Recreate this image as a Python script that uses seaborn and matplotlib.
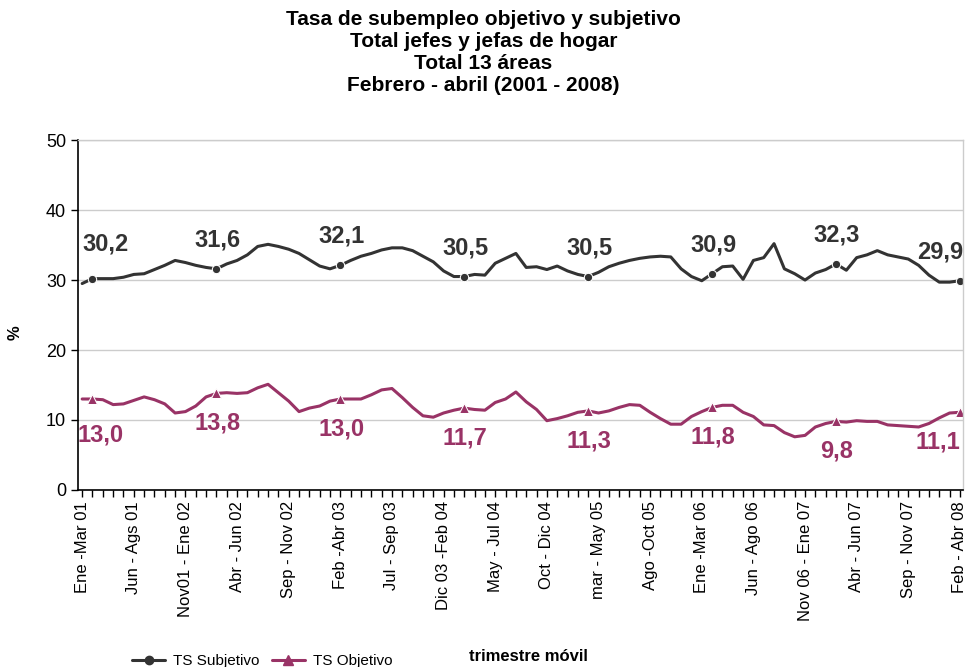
import seaborn as sns
import matplotlib.pyplot as plt
from matplotlib.lines import Line2D
import numpy as np
import pandas as pd

# trimestres móviles (etiqueta cada 5 periodos)
tick_labels = [
    "Ene -Mar 01", "Jun - Ags 01", "Nov01 - Ene 02", "Abr - Jun 02",
    "Sep - Nov 02", "Feb -Abr 03", "Jul - Sep 03", "Dic 03 -Feb 04",
    "May - Jul 04", "Oct - Dic 04", "mar - May 05", "Ago -Oct 05",
    "Ene -Mar 06", "Jun - Ago 06", "Nov 06 - Ene 07", "Abr - Jun 07",
    "Sep - Nov 07", "Feb - Abr 08",
]

subjetivo = [
    29.5, 30.2, 30.2, 30.2, 30.4, 30.8, 30.9, 31.5, 32.1, 32.8,
    32.5, 32.1, 31.8, 31.6, 32.3, 32.8, 33.6, 34.8, 35.1, 34.8,
    34.4, 33.8, 32.9, 32.0, 31.6, 32.1, 32.8, 33.4, 33.8, 34.3,
    34.6, 34.6, 34.2, 33.4, 32.6, 31.3, 30.5, 30.5, 30.8, 30.7,
    32.4, 33.1, 33.8, 31.8, 31.9, 31.5, 32.0, 31.3, 30.8, 30.5,
    31.1, 31.9, 32.4, 32.8, 33.1, 33.3, 33.4, 33.3, 31.6, 30.5,
    29.9, 30.9, 31.9, 32.0, 30.1, 32.8, 33.2, 35.2, 31.6, 30.9,
    30.0, 31.0, 31.5, 32.3, 31.4, 33.2, 33.6, 34.2, 33.6, 33.3,
    33.0, 32.1, 30.7, 29.7, 29.7, 29.9,
]

objetivo = [
    13.0, 13.0, 12.9, 12.2, 12.3, 12.8, 13.3, 12.9, 12.3, 11.0,
    11.2, 12.0, 13.3, 13.8, 13.9, 13.8, 13.9, 14.6, 15.1, 13.9,
    12.7, 11.2, 11.7, 12.0, 12.7, 13.0, 13.0, 13.0, 13.6, 14.3,
    14.5, 13.2, 11.8, 10.6, 10.4, 11.0, 11.4, 11.7, 11.5, 11.4,
    12.5, 13.0, 14.0, 12.6, 11.5, 9.9, 10.2, 10.6, 11.1, 11.3,
    11.0, 11.3, 11.8, 12.2, 12.1, 11.1, 10.2, 9.4, 9.4, 10.5,
    11.2, 11.8, 12.1, 12.1, 11.1, 10.5, 9.3, 9.2, 8.2, 7.6,
    7.8, 9.0, 9.5, 9.8, 9.7, 9.9, 9.8, 9.8, 9.3, 9.2,
    9.1, 9.0, 9.5, 10.3, 11.0, 11.1,
]

# periodos febrero - abril (marcados y rotulados)
feb_abr = list(range(1, 86, 12))

c_sub = "#333333"
c_obj = "#993366"

df = pd.DataFrame({"t": np.arange(len(subjetivo)), "sub": subjetivo, "obj": objetivo})

sns.set_style("white")
plt.rcParams["font.family"] = ["Liberation Sans", "DejaVu Sans"]
plt.rcParams["text.color"] = "black"
plt.rcParams["xtick.color"] = "black"
plt.rcParams["ytick.color"] = "black"

fig = plt.figure(figsize=(9.67, 6.67), dpi=100)
ax = fig.add_axes([0.0807, 0.2654, 0.9152, 0.5246])

sns.lineplot(data=df, x="t", y="sub", ax=ax, color=c_sub, lw=2.2,
             marker="o", markersize=6, markevery=feb_abr)
sns.lineplot(data=df, x="t", y="obj", ax=ax, color=c_obj, lw=2.2,
             marker="^", markersize=7, markevery=feb_abr)

def fmt(v):
    return f"{v:.1f}".replace(".", ",")

for k, i in enumerate(feb_abr):
    dx_s = 13 if k == 0 else (-20 if k == len(feb_abr) - 1 else 1)
    dy_s = 35 if k == 0 else 29
    ax.annotate(fmt(subjetivo[i]), (i, subjetivo[i]), xytext=(dx_s, dy_s),
                textcoords="offset pixels", ha="center", va="center",
                fontsize=17, fontweight="bold", color=c_sub, annotation_clip=False)
    dx_o = 8 if k == 0 else (-22 if k == len(feb_abr) - 1 else 1)
    dy_o = -36 if k == 0 else -30
    ax.annotate(fmt(objetivo[i]), (i, objetivo[i]), xytext=(dx_o, dy_o),
                textcoords="offset pixels", ha="center", va="center",
                fontsize=17, fontweight="bold", color=c_obj, annotation_clip=False)

ax.set_xlim(-0.4, 85.3)
ax.set_ylim(0, 50)
ax.set_yticks(np.arange(0, 51, 10))
ax.set_xticks(np.arange(0, 86, 5))
ax.set_xticklabels(tick_labels, rotation=90, fontsize=12)
ax.set_xticks(np.arange(0, 86, 1), minor=True)
ax.tick_params(axis="x", which="both", direction="out", length=5, width=1,
               color="black", bottom=True, pad=3)
ax.tick_params(axis="y", direction="out", length=5, width=1, color="black",
               left=True, labelsize=13)
ax.grid(axis="y", color="#cccccc", lw=1)
ax.set_axisbelow(True)
for s in ["left", "bottom"]:
    ax.spines[s].set_color("black")
    ax.spines[s].set_linewidth(1.2)
for s in ["top", "right"]:
    ax.spines[s].set_color("#cccccc")
    ax.spines[s].set_linewidth(1)

ax.set_xlabel("")
ax.set_ylabel("")
fig.text(0.016, 1 - 333 / 667, "%", rotation=90, ha="center", va="center",
         fontsize=12, fontweight="bold")

fig.suptitle("Tasa de subempleo objetivo y subjetivo\nTotal jefes y jefas de hogar\n"
             "Total 13 áreas\nFebrero - abril (2001 - 2008)",
             x=0.5, y=0.985, fontsize=15, fontweight="bold", linespacing=1.2)

fig.text(0.546, 0.004, "trimestre móvil", ha="center", va="bottom",
         fontsize=12, fontweight="bold")

handles = [
    Line2D([], [], color=c_sub, lw=2.2, marker="o", markersize=6),
    Line2D([], [], color=c_obj, lw=2.2, marker="^", markersize=7),
]
fig.legend(handles, ["TS Subjetivo", "TS Objetivo"], loc="lower left",
           bbox_to_anchor=(0.122, -0.022), ncol=2, frameon=False, fontsize=11,
           handlelength=2.2, handletextpad=0.5, columnspacing=0.8)

fig.savefig("out.png", dpi=100)
